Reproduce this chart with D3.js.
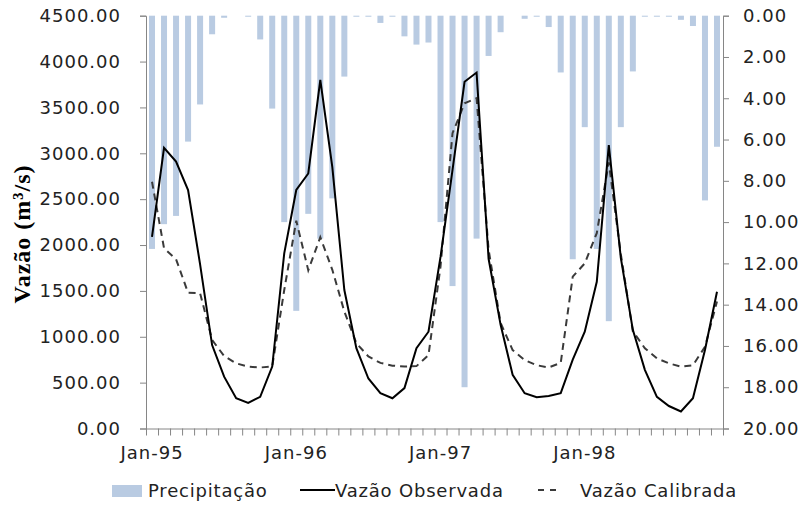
<!DOCTYPE html>
<html>
<head>
<meta charset="utf-8">
<script src="https://cdn.jsdelivr.net/npm/d3@7"></script>
<style>
  body { margin: 0; background: #fff; }
  svg { display: block; }
  .axis text { font-family: "DejaVu Sans", sans-serif; font-size: 18px; fill: #222; letter-spacing: 1px; }
  .axis path, .axis line { stroke: #868686; }
  .legend text { font-family: "DejaVu Sans", sans-serif; font-size: 18px; fill: #222; letter-spacing: 0.8px; }
</style>
</head>
<body>
<svg id="chart" width="805" height="506"></svg>
<script>
// monthly series, Jan-95 .. Dec-98
const months = d3.range(48);
const yearLabels = ['Jan-95', 'Jan-96', 'Jan-97', 'Jan-98'];
const yearLabelMonths = [0, 12, 24, 36];

const precipitacao = [
  11.3, 10.1, 9.7, 6.1, 4.3, 0.9, 0.1, 0.0, 0.05, 1.15, 4.5, 10.0,
  14.3, 9.6, 10.8, 8.85, 2.95, 0.05, 0.05, 0.35, 0.05, 1.0, 1.4, 1.3,
  10.0, 13.1, 18.0, 10.8, 1.95, 0.8, 0.0, 0.15, 0.05, 0.55, 2.75, 11.8,
  5.4, 11.3, 14.8, 5.4, 2.7, 0.05, 0.05, 0.05, 0.2, 0.5, 8.95, 6.35
];

const vazaoObservada = [
  2090, 3060, 2910, 2600, 1790, 910, 565, 330, 280, 345, 675, 1910,
  2600, 2780, 3800, 2850, 1510, 875, 545, 385, 330, 440, 875, 1055,
  1870, 2820, 3780, 3880, 1850, 1130, 585, 385, 340, 355, 385, 750,
  1055, 1600, 3090, 1860, 1075, 640, 345, 245, 185, 330, 855, 1490
];

const vazaoCalibrada = [
  2690, 1965, 1845, 1480, 1475, 965, 790, 710, 675, 665, 675, 1510,
  2265, 1725, 2085, 1730, 1275, 930, 785, 715, 685, 675, 680, 800,
  1765, 3220, 3545, 3600, 1950, 1150, 855, 745, 690, 665, 715, 1655,
  1800, 2130, 2900, 1900, 1060, 875, 765, 710, 675, 690, 890, 1385
];

const svg = d3.select('#chart');
const plot = { left: 146, right: 723, top: 15.7, bottom: 428.5 };

const x = d3.scaleBand().domain(months).range([plot.left, plot.right]).padding(0);
const xEdge = d3.scaleLinear().domain([0, 48]).range([plot.left, plot.right]);
const yFlow = d3.scaleLinear().domain([0, 4500]).range([plot.bottom, plot.top]);
const yRain = d3.scaleLinear().domain([0, 20]).range([plot.top, plot.bottom]);

// precipitation bars hanging from the top
const barW = 6;
svg.append('g')
  .selectAll('rect')
  .data(precipitacao)
  .join('rect')
  .attr('x', (d, i) => x(i) + x.bandwidth() / 2 - barW / 2)
  .attr('y', yRain(0))
  .attr('width', barW)
  .attr('height', d => yRain(d) - yRain(0))
  .attr('fill', '#b9cbe2');

// axes
svg.append('g')
  .attr('class', 'axis')
  .attr('transform', `translate(${plot.left},0)`)
  .call(d3.axisLeft(yFlow).tickValues(d3.range(0, 4501, 500)).tickFormat(d3.format('.2f')).tickSize(6).tickPadding(19));

svg.append('g')
  .attr('class', 'axis')
  .attr('transform', `translate(${plot.right},0)`)
  .call(d3.axisRight(yRain).tickValues(d3.range(0, 21, 2)).tickFormat(d3.format('.2f')).tickSize(6).tickPadding(14));

svg.append('g')
  .attr('class', 'axis')
  .attr('transform', `translate(0,${plot.bottom})`)
  .call(d3.axisBottom(xEdge).tickValues(d3.range(0, 49)).tickFormat('').tickSize(7).tickSizeOuter(0));

const labelAxis = svg.append('g')
  .attr('class', 'axis')
  .attr('transform', `translate(0,${plot.bottom})`)
  .call(d3.axisBottom(x).tickValues(yearLabelMonths).tickFormat((d, i) => yearLabels[i]).tickSize(0).tickPadding(18));
labelAxis.select('.domain').remove();

// flow lines
const flowLine = d3.line()
  .x((d, i) => x(i) + x.bandwidth() / 2)
  .y(d => yFlow(d));

svg.append('path')
  .datum(vazaoCalibrada)
  .attr('d', flowLine)
  .attr('fill', 'none')
  .attr('stroke', '#3a3a3a')
  .attr('stroke-width', 2)
  .attr('stroke-dasharray', '7,5');

svg.append('path')
  .datum(vazaoObservada)
  .attr('d', flowLine)
  .attr('fill', 'none')
  .attr('stroke', '#000')
  .attr('stroke-width', 2);

// y title
svg.append('text')
  .attr('transform', 'translate(30,234) rotate(-90)')
  .attr('text-anchor', 'middle')
  .style('font-family', '"Liberation Serif", "Times New Roman", serif')
  .style('font-weight', 'bold')
  .style('font-size', '24px')
  .style('letter-spacing', '1px')
  .text('Vazão (m³/s)');

// legend
const legend = svg.append('g').attr('class', 'legend');
legend.append('rect').attr('x', 112).attr('y', 485).attr('width', 30).attr('height', 12).attr('fill', '#b9cbe2');
legend.append('text').attr('x', 148).attr('y', 497).text('Precipitação');
legend.append('line').attr('x1', 300).attr('x2', 335).attr('y1', 490).attr('y2', 490)
  .attr('stroke', '#000').attr('stroke-width', 2);
legend.append('text').attr('x', 335).attr('y', 497).text('Vazão Observada');
legend.append('line').attr('x1', 538).attr('x2', 558).attr('y1', 490).attr('y2', 490)
  .attr('stroke', '#3a3a3a').attr('stroke-width', 2).attr('stroke-dasharray', '6,6');
legend.append('text').attr('x', 580).attr('y', 497).text('Vazão Calibrada');
</script>
</body>
</html>
